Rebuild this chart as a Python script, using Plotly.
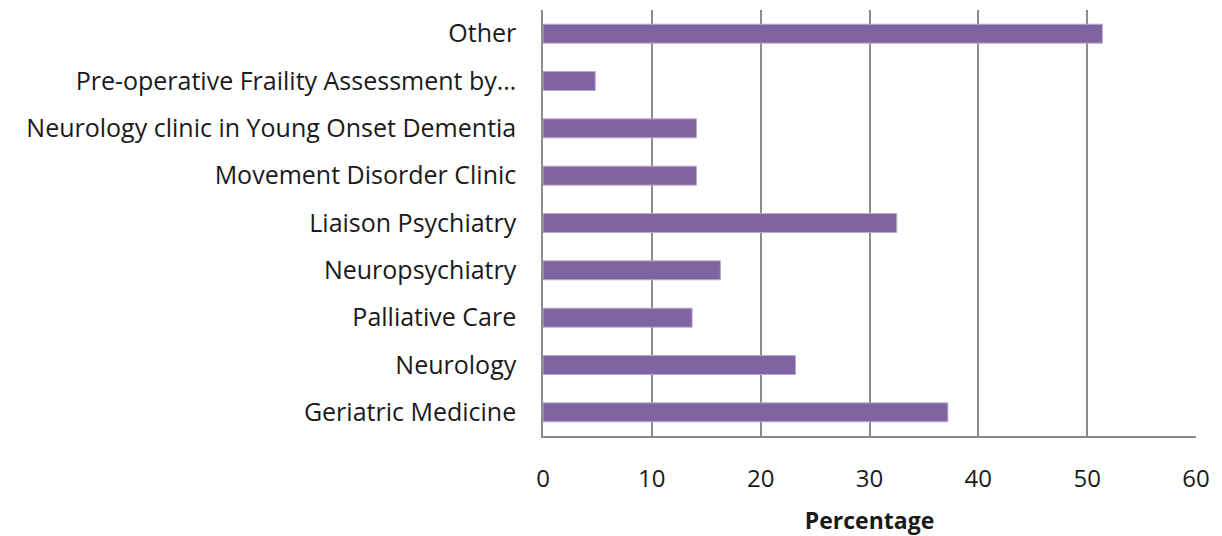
import plotly.graph_objects as go

categories = [
    "Geriatric Medicine",
    "Neurology",
    "Palliative Care",
    "Neuropsychiatry",
    "Liaison Psychiatry",
    "Movement Disorder Clinic",
    "Neurology clinic in Young Onset Dementia",
    "Pre-operative Fraility Assessment by…",
    "Other",
]
percentages = [37.2, 23.2, 13.7, 16.3, 32.5, 14.1, 14.1, 4.8, 51.4]
x_ticks = [0, 10, 20, 30, 40, 50, 60]

FONT = "Open Sans, sans-serif"

fig = go.Figure(
    go.Bar(
        x=percentages,
        y=categories,
        orientation="h",
        marker=dict(color="#8064A2", line=dict(color="#B9A9D0", width=1)),
        width=0.4,
    )
)

fig.update_layout(
    width=1222,
    height=536,
    margin=dict(l=535, r=34, t=2, b=108),
    paper_bgcolor="white",
    plot_bgcolor="white",
    showlegend=False,
    font=dict(family=FONT, size=24, color="#1a1a1a"),
)

fig.update_xaxes(
    range=[0, 60],
    tickvals=x_ticks,
    showgrid=True,
    gridcolor="#8c8c8c",
    gridwidth=1.5,
    showline=True,
    linecolor="#8c8c8c",
    linewidth=1.5,
    zeroline=False,
    ticks="outside",
    ticklen=20,
    tickcolor="rgba(0,0,0,0)",
    tickfont=dict(size=24),
    title=dict(text="<b>Percentage</b>", font=dict(size=23), standoff=20),
)

fig.update_yaxes(
    range=[-0.5, 8.5],
    categoryorder="array",
    categoryarray=categories,
    showgrid=False,
    showline=True,
    linecolor="#8c8c8c",
    linewidth=1.5,
    ticks="outside",
    ticklen=20,
    tickcolor="rgba(0,0,0,0)",
    tickfont=dict(size=25),
)

fig.write_html("out.html")
